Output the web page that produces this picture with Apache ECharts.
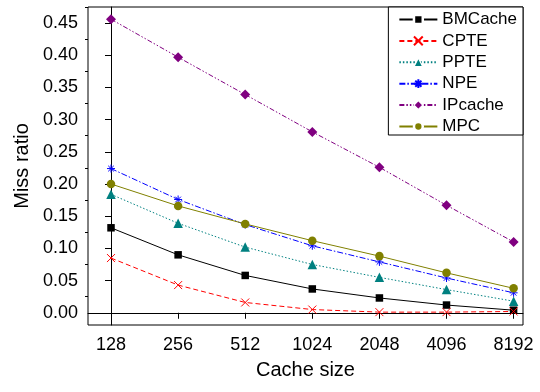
<!DOCTYPE html>
<html>
<head>
<meta charset="utf-8">
<script src="https://cdn.jsdelivr.net/npm/echarts@6/dist/echarts.min.js"></script>
<style>
  html, body { margin: 0; padding: 0; background: #fff; }
  #chart { width: 540px; height: 392px; }
</style>
</head>
<body>
<div id="chart"></div>
<script>
// Cache sizes on the x axis
const cacheSizes = ['128', '256', '512', '1024', '2048', '4096', '8192'];

// Miss ratio per scheme
const bmcache = [0.132, 0.090, 0.058, 0.037, 0.023, 0.012, 0.004];
const cpte    = [0.085, 0.043, 0.016, 0.005, 0.001, 0.001, 0.002];
const ppte    = [0.184, 0.139, 0.102, 0.075, 0.055, 0.036, 0.018];
const npe     = [0.224, 0.176, 0.137, 0.104, 0.079, 0.054, 0.031];
const ipcache = [0.456, 0.397, 0.339, 0.281, 0.226, 0.167, 0.110];
const mpc     = [0.200, 0.166, 0.138, 0.112, 0.088, 0.062, 0.038];

// Y axis tick values
const majorTicks = [0, 0.05, 0.10, 0.15, 0.20, 0.25, 0.30, 0.35, 0.40, 0.45];
const minorTicks = [0.025, 0.075, 0.125, 0.175, 0.225, 0.275, 0.325, 0.375, 0.425, 0.475];

const FONT = '"Liberation Sans", Arial, sans-serif';
const crossSymbol = 'path://M0,0L10,10M10,0L0,10';
const starSymbol = 'path://M5,0L5,10M0,5L10,5M1.5,1.5L8.5,8.5M8.5,1.5L1.5,8.5';

function pairs(values) {
  return values.map((v, i) => [i, v]);
}

function makeSeries(name, values, color, dash, symbol, size, stroked) {
  return {
    name: name,
    type: 'line',
    data: pairs(values),
    symbol: symbol,
    symbolSize: size,
    showSymbol: true,
    lineStyle: { color: color, width: 1, type: dash },
    itemStyle: stroked
      ? { color: color, borderColor: color, borderWidth: 1 }
      : { color: color },
    emphasis: { disabled: true },
    animation: false
  };
}

// filled legend markers get a white rim so the line breaks around them
const rim = { borderColor: '#fff', borderWidth: 2.5 };
const thinRim = { borderColor: '#fff', borderWidth: 1.2 };

const chart = echarts.init(document.getElementById('chart'));

chart.setOption({
  animation: false,
  grid: {
    left: 88, right: 17, top: 7, bottom: 67,
    show: true, borderColor: '#000', borderWidth: 1, backgroundColor: 'transparent'
  },
  legend: {
    right: 17, top: 7,
    orient: 'vertical',
    backgroundColor: '#fff',
    borderColor: '#000',
    borderWidth: 1,
    borderRadius: 0,
    padding: [4, 6, 0, 10],
    itemWidth: 38,
    itemHeight: 11,
    itemGap: 4.4,
    textStyle: { fontFamily: FONT, fontSize: 17, color: '#000' },
    data: [
      { name: 'BMCache', itemStyle: rim },
      { name: 'CPTE' },
      { name: 'PPTE', itemStyle: thinRim },
      { name: 'NPE' },
      { name: 'IPcache', itemStyle: thinRim },
      { name: 'MPC', itemStyle: rim }
    ]
  },
  xAxis: {
    type: 'value',
    min: -0.343, max: 6.14,
    name: 'Cache size',
    nameLocation: 'middle',
    nameGap: 35,
    nameTextStyle: { fontFamily: FONT, fontSize: 20, color: '#000' },
    axisLine: { lineStyle: { color: '#000', width: 1 } },
    axisTick: { show: true, length: 6, inside: false, customValues: [0, 1, 2, 3, 4, 5, 6], lineStyle: { color: '#000' } },
    axisLabel: {
      customValues: [0, 1, 2, 3, 4, 5, 6],
      margin: 11,
      fontFamily: FONT, fontSize: 18, color: '#000',
      formatter: v => cacheSizes[Math.round(v)]
    },
    splitLine: { show: false }
  },
  yAxis: [
    {
      type: 'value',
      min: -0.019, max: 0.475,
      name: 'Miss ratio',
      nameLocation: 'middle',
      nameGap: 52,
      nameRotate: 90,
      nameTextStyle: { fontFamily: FONT, fontSize: 20, color: '#000' },
      axisLine: { show: true, lineStyle: { color: '#000', width: 1 } },
      axisTick: { show: true, length: 6, customValues: majorTicks, lineStyle: { color: '#000' } },
      axisLabel: {
        customValues: majorTicks,
        margin: 10,
        fontFamily: FONT, fontSize: 18, color: '#000',
        formatter: v => v.toFixed(2)
      },
      splitLine: { show: false }
    },
    {
      // minor ticks on the same left edge
      type: 'value',
      position: 'left',
      min: -0.019, max: 0.475,
      axisLine: { show: false },
      axisTick: { show: true, length: 3, customValues: minorTicks, lineStyle: { color: '#000' } },
      axisLabel: { show: false },
      splitLine: { show: false }
    }
  ],
  series: [
    makeSeries('BMCache', bmcache, '#000000', 'solid', 'rect', 7.5, false),
    makeSeries('CPTE', cpte, '#ff0000', [5, 3], crossSymbol, 8, true),
    makeSeries('PPTE', ppte, '#008080', [1.5, 2], 'triangle', 9.5, false),
    makeSeries('NPE', npe, '#0000ff', [6, 2, 1.5, 2], starSymbol, 8, true),
    makeSeries('IPcache', ipcache, '#800080', [5, 2, 1.5, 2, 1.5, 2], 'diamond', 10, false),
    makeSeries('MPC', mpc, '#808000', 'solid', 'circle', 8.5, false)
  ]
});
</script>
</body>
</html>
